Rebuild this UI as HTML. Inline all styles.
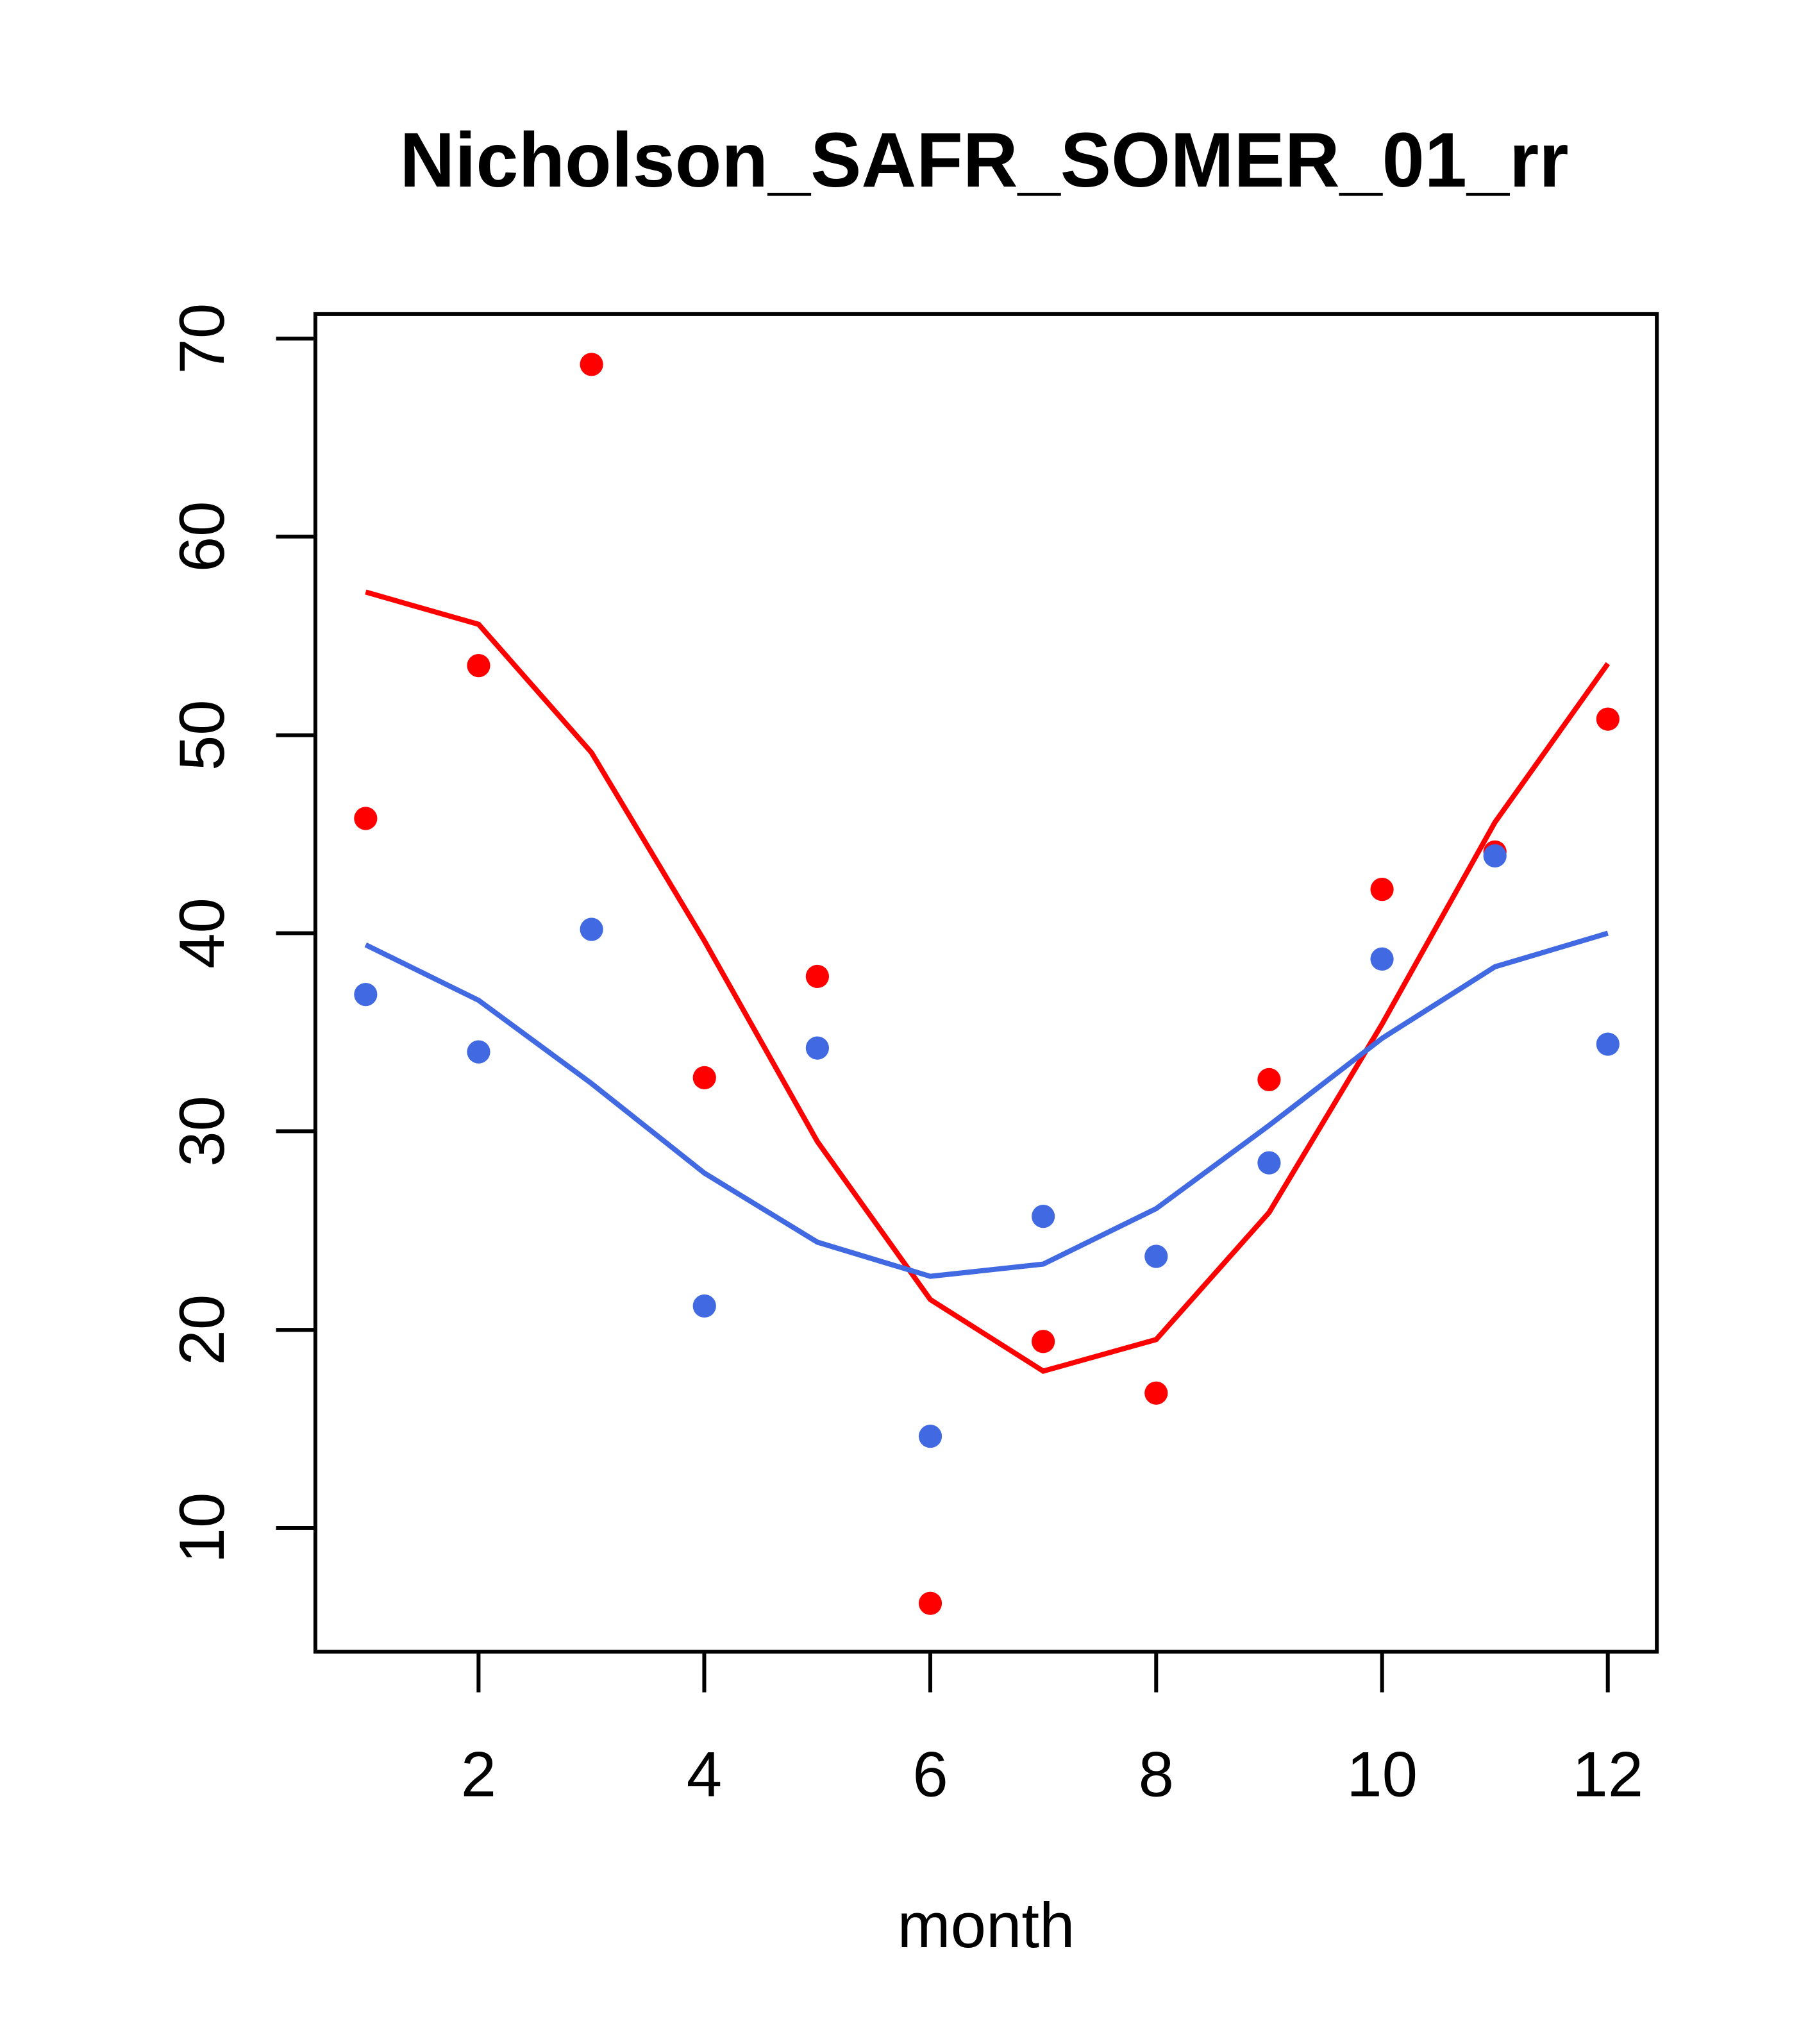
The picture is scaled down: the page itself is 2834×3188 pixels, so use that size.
<!DOCTYPE html>
<html><head><meta charset="utf-8"><style>html,body{margin:0;padding:0;background:#fff}svg{display:block}</style></head>
<body>
<svg width="2834" height="3188" viewBox="0 0 2834 3188" xmlns="http://www.w3.org/2000/svg" font-family="Liberation Sans, Arial, sans-serif">
<rect width="2834" height="3188" fill="#fff"/>
<text x="1535" y="291" font-size="121" font-weight="bold" text-anchor="middle" textLength="1823" lengthAdjust="spacingAndGlyphs">Nicholson_SAFR_SOMER_01_rr</text>
<g transform="matrix(1.0059,0,0,1.0059,-1,-1)">
<rect x="490" y="488" width="2080" height="2074" fill="none" stroke="#000" stroke-width="6"/>
<g stroke="#000" stroke-width="6">
<line x1="429" y1="526" x2="490" y2="526"/><line x1="429" y1="833" x2="490" y2="833"/><line x1="429" y1="1141" x2="490" y2="1141"/><line x1="429" y1="1448" x2="490" y2="1448"/><line x1="429" y1="1755" x2="490" y2="1755"/><line x1="429" y1="2063" x2="490" y2="2063"/><line x1="429" y1="2370" x2="490" y2="2370"/>
<line x1="743" y1="2562" x2="743" y2="2625"/><line x1="1093" y1="2562" x2="1093" y2="2625"/><line x1="1443.5" y1="2562" x2="1443.5" y2="2625"/><line x1="1793.7" y1="2562" x2="1793.7" y2="2625"/><line x1="2144" y1="2562" x2="2144" y2="2625"/><line x1="2494" y1="2562" x2="2494" y2="2625"/>
</g>
<g font-size="99" text-anchor="middle">
<text transform="translate(348,526) rotate(-90)">70</text>
<text transform="translate(348,833) rotate(-90)">60</text>
<text transform="translate(348,1141) rotate(-90)">50</text>
<text transform="translate(348,1448) rotate(-90)">40</text>
<text transform="translate(348,1755) rotate(-90)">30</text>
<text transform="translate(348,2063) rotate(-90)">20</text>
<text transform="translate(348,2370) rotate(-90)">10</text>
<text x="743" y="2786">2</text><text x="1093" y="2786">4</text><text x="1443.5" y="2786">6</text><text x="1793.7" y="2786">8</text><text x="2144" y="2786">10</text><text x="2494" y="2786">12</text>
<text x="1530" y="3020">month</text>
</g>
<polyline fill="none" stroke="#FF0000" stroke-width="8" points="568,919 743.1,969 918.2,1168 1093.3,1460 1268.4,1771 1443.5,2016 1618.6,2127 1793.7,2078 1968.8,1881 2143.9,1589 2319,1276 2494.1,1030"/>
<polyline fill="none" stroke="#4169E1" stroke-width="8" points="568,1466 743.1,1552 918.2,1681 1093.3,1820 1268.4,1927 1443.5,1980 1618.6,1961 1793.7,1875 1968.8,1746 2143.9,1611 2319,1500 2494.1,1448"/>
<g fill="#FF0000">
<circle cx="568" cy="1270" r="18"/><circle cx="743.1" cy="1033" r="18"/><circle cx="918.2" cy="566" r="18"/><circle cx="1093.3" cy="1672" r="18"/><circle cx="1268.4" cy="1515" r="18"/><circle cx="1443.5" cy="2487" r="18"/><circle cx="1618.6" cy="2081" r="18"/><circle cx="1793.7" cy="2161" r="18"/><circle cx="1968.8" cy="1675" r="18"/><circle cx="2143.9" cy="1380" r="18"/><circle cx="2319" cy="1322" r="18"/><circle cx="2494.1" cy="1116" r="18"/>
</g>
<g fill="#4169E1">
<circle cx="568" cy="1543" r="18"/><circle cx="743.1" cy="1632" r="18"/><circle cx="918.2" cy="1442" r="18"/><circle cx="1093.3" cy="2026" r="18"/><circle cx="1268.4" cy="1626" r="18"/><circle cx="1443.5" cy="2228" r="18"/><circle cx="1618.6" cy="1887" r="18"/><circle cx="1793.7" cy="1949" r="18"/><circle cx="1968.8" cy="1804" r="18"/><circle cx="2143.9" cy="1488" r="18"/><circle cx="2319" cy="1328" r="18"/><circle cx="2494.1" cy="1620" r="18"/>
</g>
</g>
</svg>
</body></html>
